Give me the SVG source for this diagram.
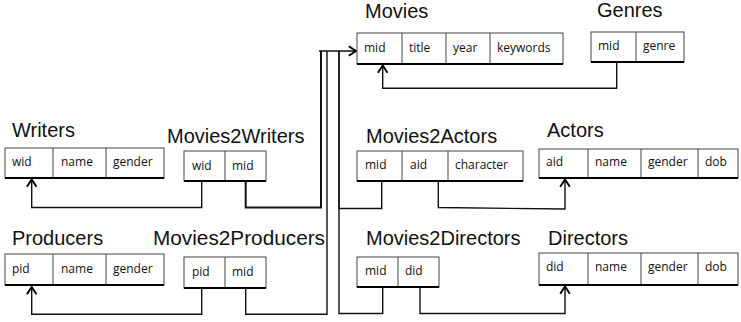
<svg xmlns="http://www.w3.org/2000/svg" width="741" height="322" viewBox="0 0 741 322">
  <style>
    .title { font-family: "Liberation Sans", Arial, sans-serif; font-size: 20px; fill: #111; }
    .cell { font-family: "Open Sans", "Liberation Sans", sans-serif; font-size: 12px; fill: #111; }
    .box { fill: #fff; stroke: #444; stroke-width: 1; }
    .div { stroke: #444; stroke-width: 1; }
    .base { stroke: #000; stroke-width: 2; }
    .wire { fill: none; stroke: #111; stroke-width: 1.4; }
  </style>
  <defs>
    <marker id="arrow" markerUnits="userSpaceOnUse" markerWidth="12" markerHeight="12" viewBox="0 0 10 10" refX="8" refY="5" orient="auto">
      <path d="M2,1 L8,5 L2,9" fill="none" stroke="#000" stroke-width="1.6"/>
    </marker>
  </defs>
  <rect width="741" height="322" fill="#fff"/>

  <!-- connectors -->
  <g id="connectors">
    <!-- Genres.mid -> Movies.mid -->
    <path class="wire" d="M616.7,62 V88.3 H382.7 V65.5" marker-end="url(#arrow)"/>
    <!-- Movies2Writers.wid -> Writers.wid -->
    <path class="wire" d="M201.7,181 V207.5 H31.7 V179.5" marker-end="url(#arrow)"/>
    <!-- Movies2Producers.pid -> Producers.pid -->
    <path class="wire" d="M201.7,288 V314.3 H31.7 V287" marker-end="url(#arrow)"/>
    <!-- Movies2Actors.aid -> Actors.aid -->
    <path class="wire" d="M438.3,181 V207.5 L565,209 V179.5" marker-end="url(#arrow)"/>
    <!-- Movies2Directors.did -> Directors.did -->
    <path class="wire" d="M420,287 V313.5 H565 V286.5" marker-end="url(#arrow)"/>
    <!-- link tables .mid -> Movies.mid (shared trunk) -->
    <path class="wire" d="M245.7,181 V207.5 H321 V51" style="stroke-width:2"/>
    <path class="wire" d="M245.7,288 V314.3 H327 V51"/>
    <path class="wire" d="M381.7,181 V208.5 H339 V51"/>
    <path class="wire" d="M382.7,287 V313.5 H339 V51"/>
    <path class="wire" d="M319,51 H356" marker-end="url(#arrow)"/>
  </g>

  <!-- Movies -->
  <g id="movies">
    <text class="title" x="365" y="18">Movies</text>
    <rect class="box" x="357" y="33" width="206" height="31"/>
    <line class="div" x1="402" y1="33" x2="402" y2="64"/>
    <line class="div" x1="446" y1="33" x2="446" y2="64"/>
    <line class="div" x1="490" y1="33" x2="490" y2="64"/>
    <line class="base" x1="357" y1="64" x2="563" y2="64"/>
    <text class="cell" x="364" y="52">mid</text>
    <text class="cell" x="409" y="52">title</text>
    <text class="cell" x="453" y="52">year</text>
    <text class="cell" x="497" y="52">keywords</text>
  </g>

  <!-- Genres -->
  <g id="genres">
    <text class="title" x="597" y="17">Genres</text>
    <rect class="box" x="591" y="32" width="93" height="30"/>
    <line class="div" x1="636" y1="32" x2="636" y2="62"/>
    <line class="base" x1="591" y1="62" x2="684" y2="62"/>
    <text class="cell" x="598" y="50">mid</text>
    <text class="cell" x="643" y="50">genre</text>
  </g>

  <!-- Writers -->
  <g id="writers">
    <text class="title" x="12" y="137">Writers</text>
    <rect class="box" x="5" y="148" width="159" height="30"/>
    <line class="div" x1="53" y1="148" x2="53" y2="178"/>
    <line class="div" x1="106" y1="148" x2="106" y2="178"/>
    <line class="base" x1="5" y1="178" x2="164" y2="178"/>
    <text class="cell" x="12" y="166">wid</text>
    <text class="cell" x="61" y="166">name</text>
    <text class="cell" x="113" y="166">gender</text>
  </g>

  <!-- Movies2Writers -->
  <g id="movies2writers">
    <text class="title" x="167" y="143">Movies2Writers</text>
    <rect class="box" x="184" y="151" width="82" height="30"/>
    <line class="div" x1="225" y1="151" x2="225" y2="181"/>
    <line class="base" x1="184" y1="181" x2="266" y2="181"/>
    <text class="cell" x="192" y="170">wid</text>
    <text class="cell" x="232" y="170">mid</text>
  </g>

  <!-- Producers -->
  <g id="producers">
    <text class="title" x="12" y="245">Producers</text>
    <rect class="box" x="5" y="254" width="159" height="31"/>
    <line class="div" x1="53" y1="254" x2="53" y2="285"/>
    <line class="div" x1="106" y1="254" x2="106" y2="285"/>
    <line class="base" x1="5" y1="285" x2="164" y2="285"/>
    <text class="cell" x="12" y="273">pid</text>
    <text class="cell" x="61" y="273">name</text>
    <text class="cell" x="113" y="273">gender</text>
  </g>

  <!-- Movies2Producers -->
  <g id="movies2producers">
    <text class="title" x="153" y="245" textLength="172" lengthAdjust="spacingAndGlyphs">Movies2Producers</text>
    <rect class="box" x="184" y="257" width="82" height="31"/>
    <line class="div" x1="225" y1="257" x2="225" y2="288"/>
    <line class="base" x1="184" y1="288" x2="266" y2="288"/>
    <text class="cell" x="192" y="276">pid</text>
    <text class="cell" x="232" y="276">mid</text>
  </g>

  <!-- Movies2Actors -->
  <g id="movies2actors">
    <text class="title" x="366" y="143">Movies2Actors</text>
    <rect class="box" x="357" y="151" width="166" height="30"/>
    <line class="div" x1="402" y1="151" x2="402" y2="181"/>
    <line class="div" x1="448" y1="151" x2="448" y2="181"/>
    <line class="base" x1="357" y1="181" x2="523" y2="181"/>
    <text class="cell" x="365" y="169">mid</text>
    <text class="cell" x="410" y="169">aid</text>
    <text class="cell" x="455" y="169">character</text>
  </g>

  <!-- Actors -->
  <g id="actors">
    <text class="title" x="547" y="137">Actors</text>
    <rect class="box" x="539" y="149" width="199" height="29"/>
    <line class="div" x1="588" y1="149" x2="588" y2="178"/>
    <line class="div" x1="641" y1="149" x2="641" y2="178"/>
    <line class="div" x1="698" y1="149" x2="698" y2="178"/>
    <line class="base" x1="539" y1="178" x2="738" y2="178"/>
    <text class="cell" x="546" y="166">aid</text>
    <text class="cell" x="595" y="166">name</text>
    <text class="cell" x="648" y="166">gender</text>
    <text class="cell" x="705" y="166">dob</text>
  </g>

  <!-- Movies2Directors -->
  <g id="movies2directors">
    <text class="title" x="366" y="245">Movies2Directors</text>
    <rect class="box" x="357" y="257" width="82" height="30"/>
    <line class="div" x1="398" y1="257" x2="398" y2="287"/>
    <line class="base" x1="357" y1="287" x2="439" y2="287"/>
    <text class="cell" x="365" y="275">mid</text>
    <text class="cell" x="405" y="275">did</text>
  </g>

  <!-- Directors -->
  <g id="directors">
    <text class="title" x="548" y="245">Directors</text>
    <rect class="box" x="539" y="253" width="199" height="32"/>
    <line class="div" x1="588" y1="253" x2="588" y2="285"/>
    <line class="div" x1="641" y1="253" x2="641" y2="285"/>
    <line class="div" x1="698" y1="253" x2="698" y2="285"/>
    <line class="base" x1="539" y1="285" x2="738" y2="285"/>
    <text class="cell" x="546" y="271">did</text>
    <text class="cell" x="595" y="271">name</text>
    <text class="cell" x="648" y="271">gender</text>
    <text class="cell" x="705" y="271">dob</text>
  </g>
</svg>
